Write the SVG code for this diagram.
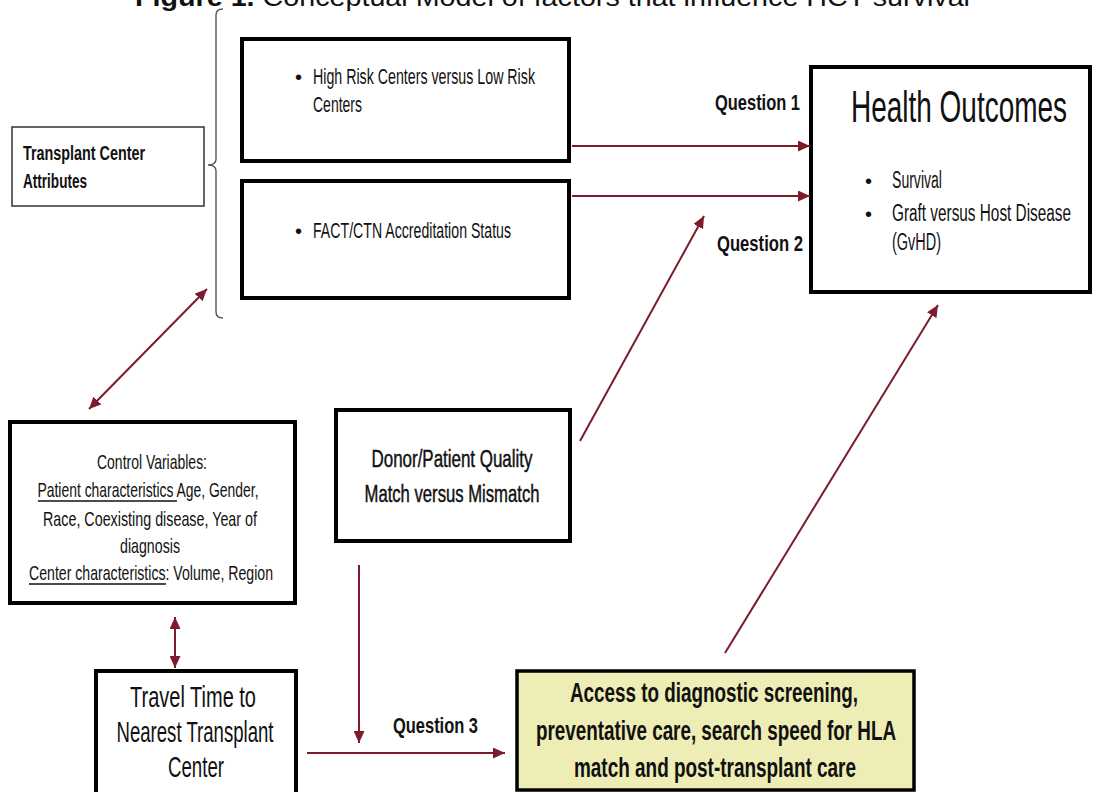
<svg xmlns="http://www.w3.org/2000/svg" width="1097" height="792" viewBox="0 0 1097 792">
<style>
text{font-family:"Liberation Sans",Arial,sans-serif;fill:#111}
.box{fill:#fff;stroke:#000;stroke-width:4}
.thin{fill:#fff;stroke:#333;stroke-width:1.5}
.b{font-weight:bold}
.semi{stroke:#111;stroke-width:0.45}
.ul{stroke:#111;stroke-width:1.3}
.c{stroke:#7B1C2C;stroke-width:2;fill:none}
.brace{stroke:#555;stroke-width:1.4;fill:none}
</style>
<defs>
<marker id="ah" viewBox="0 0 12 11" refX="12" refY="5.5" markerWidth="12" markerHeight="11" markerUnits="userSpaceOnUse" orient="auto-start-reverse"><path d="M0,0 L12,5.5 L0,11 z" fill="#7B1C2C"/></marker>
</defs>
<rect width="1097" height="792" fill="#fff"/>

<text id="title" x="135" y="6" font-size="26" textLength="835" lengthAdjust="spacingAndGlyphs"><tspan font-weight="bold">Figure 1.</tspan> Conceptual Model of factors that influence HCT survival</text>

<g id="brace">
<path class="brace" d="M223 9 Q216 9 216 15 L216 159 Q216 165 208 165 Q216 165 216 171 L216 312 Q216 318 223 318"/>
</g>

<g id="attributes">
<rect class="thin" x="12" y="127" width="192" height="79"/>
<text class="b" x="23" y="160" font-size="20" textLength="122" lengthAdjust="spacingAndGlyphs">Transplant Center</text>
<text class="b" x="23" y="188" font-size="20" textLength="64" lengthAdjust="spacingAndGlyphs">Attributes</text>
</g>

<g id="highrisk">
<rect class="box" x="242" y="39" width="327" height="122"/>
<text x="295" y="84" font-size="20">•</text>
<text x="313" y="84" font-size="22" textLength="222" lengthAdjust="spacingAndGlyphs">High Risk Centers versus Low Risk</text>
<text x="313" y="112" font-size="22" textLength="49" lengthAdjust="spacingAndGlyphs">Centers</text>
</g>

<g id="fact">
<rect class="box" x="242" y="181" width="327" height="117"/>
<text x="295" y="238" font-size="20">•</text>
<text x="313" y="238" font-size="22" textLength="198" lengthAdjust="spacingAndGlyphs">FACT/CTN Accreditation Status</text>
</g>

<g id="health">
<rect class="box" x="811" y="67" width="279" height="225"/>
<text x="851" y="122" font-size="44" textLength="216" lengthAdjust="spacingAndGlyphs">Health Outcomes</text>
<text x="865" y="188" font-size="20">•</text>
<text x="892" y="188" font-size="23" textLength="50" lengthAdjust="spacingAndGlyphs">Survival</text>
<text x="865" y="221" font-size="20">•</text>
<text x="892" y="221" font-size="23" textLength="179" lengthAdjust="spacingAndGlyphs">Graft versus Host Disease</text>
<text x="892" y="250" font-size="23" textLength="49" lengthAdjust="spacingAndGlyphs">(GvHD)</text>
</g>

<g id="labels">
<text class="b" x="715" y="110" font-size="22" textLength="85" lengthAdjust="spacingAndGlyphs">Question 1</text>
<text class="b" x="717" y="251" font-size="22" textLength="86" lengthAdjust="spacingAndGlyphs">Question 2</text>
<text class="b" x="393" y="733" font-size="22" textLength="85" lengthAdjust="spacingAndGlyphs">Question 3</text>
</g>

<g id="control">
<rect class="box" x="10" y="422" width="285" height="181"/>
<g font-size="21" text-anchor="middle">
<text x="152" y="469" textLength="110" lengthAdjust="spacingAndGlyphs">Control Variables:</text>
<text x="148" y="497" textLength="221" lengthAdjust="spacingAndGlyphs">Patient characteristics Age, Gender,</text>
<text x="150" y="526" textLength="214" lengthAdjust="spacingAndGlyphs">Race, Coexisting disease, Year of</text>
<text x="150" y="553" textLength="60" lengthAdjust="spacingAndGlyphs">diagnosis</text>
<text x="151" y="580" textLength="244" lengthAdjust="spacingAndGlyphs">Center characteristics: Volume, Region</text>
</g>
<line class="ul" x1="38" y1="501" x2="177" y2="501"/>
<line class="ul" x1="29" y1="584" x2="166" y2="584"/>
</g>

<g id="donor">
<rect class="box" x="336" y="410" width="234" height="131"/>
<text class="semi" x="452" y="467" font-size="23" text-anchor="middle" textLength="161" lengthAdjust="spacingAndGlyphs">Donor/Patient Quality</text>
<text class="semi" x="452" y="502" font-size="23" text-anchor="middle" textLength="175" lengthAdjust="spacingAndGlyphs">Match versus Mismatch</text>
</g>

<g id="travel">
<rect class="box" x="96" y="671" width="200" height="135"/>
<g font-size="30" text-anchor="middle">
<text x="193" y="707" textLength="126" lengthAdjust="spacingAndGlyphs">Travel Time to</text>
<text x="195" y="742" textLength="157" lengthAdjust="spacingAndGlyphs">Nearest Transplant</text>
<text x="196" y="777" textLength="56" lengthAdjust="spacingAndGlyphs">Center</text>
</g>
</g>

<g id="access">
<rect x="517" y="671" width="397" height="119" fill="#EDEDB5" stroke="#000" stroke-width="3.5"/>
<g class="b" font-size="28" text-anchor="middle">
<text x="714" y="702" textLength="288" lengthAdjust="spacingAndGlyphs">Access to diagnostic screening,</text>
<text x="716" y="740" textLength="360" lengthAdjust="spacingAndGlyphs">preventative care, search speed for HLA</text>
<text x="715" y="777" textLength="282" lengthAdjust="spacingAndGlyphs">match and post-transplant care</text>
</g>
</g>

<g id="connectors">
<line class="c" x1="572" y1="146" x2="810" y2="146" marker-end="url(#ah)"/>
<line class="c" x1="572" y1="196" x2="810" y2="196" marker-end="url(#ah)"/>
<line class="c" x1="580" y1="441" x2="704" y2="216" marker-end="url(#ah)"/>
<line class="c" x1="725" y1="653" x2="938" y2="305" marker-end="url(#ah)"/>
<line class="c" x1="207" y1="289" x2="89" y2="409" marker-start="url(#ah)" marker-end="url(#ah)"/>
<line class="c" x1="175" y1="617" x2="175" y2="668" marker-start="url(#ah)" marker-end="url(#ah)"/>
<line class="c" x1="359" y1="565" x2="359" y2="743" marker-end="url(#ah)"/>
<line class="c" x1="307" y1="753" x2="505" y2="753" marker-end="url(#ah)"/>
</g>
</svg>
